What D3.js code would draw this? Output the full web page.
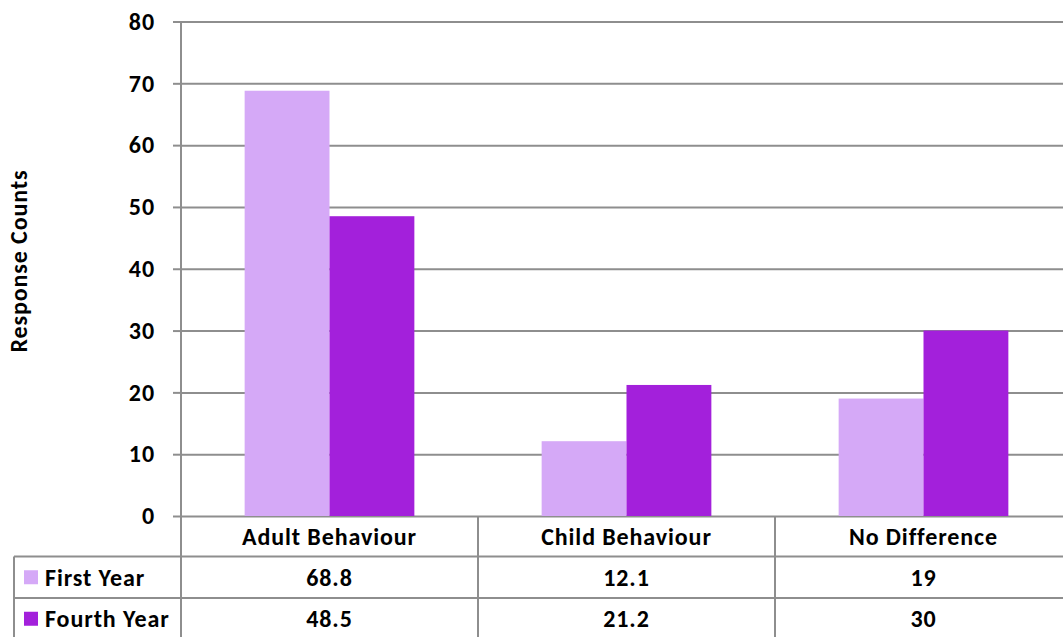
<!DOCTYPE html>
<html>
<head>
<meta charset="utf-8">
<script src="https://cdn.jsdelivr.net/npm/d3@7"></script>
<style>
  html, body { margin: 0; padding: 0; background: #fff; overflow: hidden; }
  svg { display: block; }
  text { font-family: Carlito, Lato, "Open Sans", sans-serif; font-weight: bold; fill: #000; letter-spacing: 0.9px; }
</style>
</head>
<body>
<svg id="chart" width="1063" height="637"></svg>
<script>
const categories = ["Adult Behaviour", "Child Behaviour", "No Difference"];
const seriesNames = ["First Year", "Fourth Year"];
const firstYear = [68.8, 12.1, 19];
const fourthYear = [48.5, 21.2, 30];
const seriesColors = ["#D5A9F7", "#A320DB"];
const yTicks = [0, 10, 20, 30, 40, 50, 60, 70, 80];
const firstYearLabels = ["68.8", "12.1", "19"];
const fourthYearLabels = ["48.5", "21.2", "30"];

const svg = d3.select("#chart");
const W = 1063, H = 637;
const plotLeft = 181, plotRight = 1072, plotTop = 21.5, plotBottom = 516;
const tableLeft = 14;
const rowH = [40.5, 41.5, 41.5];
const gridColor = "#8E8E8E";
const fontSize = 24;
const fontFamily = "Carlito, Lato, 'Open Sans', sans-serif";

const x = d3.scaleBand().domain(categories).range([plotLeft, plotRight]).padding(0);
const y = d3.scaleLinear().domain([0, 80]).range([plotBottom, plotTop]);

// two bars per category, gap width 150% of a bar
const barW = x.bandwidth() / 3.5;
const gap = (x.bandwidth() - 2 * barW) / 2;
const sub = d3.scaleBand().domain([0, 1]).range([0, 2 * barW]).padding(0);

// horizontal gridlines with outward tick marks
const yAxis = d3.axisLeft(y).tickValues(yTicks).tickSize(-(plotRight - plotLeft)).tickPadding(26);
const gy = svg.append("g").attr("transform", `translate(${plotLeft},0)`).call(yAxis);
gy.select(".domain").remove();
gy.selectAll(".tick line").attr("stroke", gridColor).attr("stroke-width", 2);
gy.selectAll(".tick").append("line")
  .attr("x1", -8).attr("x2", 0).attr("stroke", gridColor).attr("stroke-width", 2);
gy.selectAll(".tick text").attr("font-size", fontSize).attr("font-weight", "bold")
  .attr("font-family", fontFamily).attr("fill", "#000");

// bars
const series = [firstYear, fourthYear];
series.forEach((vals, si) => {
  svg.append("g").selectAll("rect").data(vals).join("rect")
    .attr("x", (d, i) => x(categories[i]) + gap + sub(si))
    .attr("width", sub.bandwidth())
    .attr("y", d => y(d))
    .attr("height", d => y(0) - y(d))
    .attr("fill", seriesColors[si]);
});

// y axis line
svg.append("line").attr("x1", plotLeft).attr("x2", plotLeft)
  .attr("y1", plotTop).attr("y2", H).attr("stroke", gridColor).attr("stroke-width", 2);

// data table
const rowTops = [plotBottom, plotBottom + rowH[0], plotBottom + rowH[0] + rowH[1]];
const tbl = svg.append("g");
[rowTops[1], rowTops[2], rowTops[2] + rowH[2]].forEach(yy => {
  tbl.append("line").attr("x1", tableLeft).attr("x2", W).attr("y1", yy).attr("y2", yy)
    .attr("stroke", gridColor).attr("stroke-width", 2);
});
tbl.append("line").attr("x1", tableLeft).attr("x2", tableLeft)
  .attr("y1", rowTops[1]).attr("y2", H).attr("stroke", gridColor).attr("stroke-width", 2);
categories.slice(1).forEach(c => {
  tbl.append("line").attr("x1", x(c)).attr("x2", x(c))
    .attr("y1", plotBottom).attr("y2", H).attr("stroke", gridColor).attr("stroke-width", 2);
});

// category header labels
tbl.selectAll("text.cat").data(categories).join("text").attr("class", "cat")
  .attr("x", d => x(d) + x.bandwidth() / 2)
  .attr("y", rowTops[0] + rowH[0] / 2)
  .attr("dy", "0.35em").attr("text-anchor", "middle").attr("font-size", fontSize)
  .text(d => d);

// series rows with legend keys
const rowLabels = [firstYearLabels, fourthYearLabels];
seriesNames.forEach((name, si) => {
  const cy = rowTops[si + 1] + rowH[si + 1] / 2;
  tbl.append("rect").attr("x", 24).attr("y", cy - 7).attr("width", 14).attr("height", 14)
    .attr("fill", seriesColors[si]);
  tbl.append("text").attr("x", 45).attr("y", cy).attr("dy", "0.35em")
    .attr("font-size", fontSize).text(name);
  tbl.selectAll(null).data(rowLabels[si]).join("text")
    .attr("x", (d, i) => x(categories[i]) + x.bandwidth() / 2)
    .attr("y", cy).attr("dy", "0.35em").attr("text-anchor", "middle")
    .attr("font-size", fontSize).text(d => d);
});

// y axis title
svg.append("text")
  .attr("transform", `translate(19,261) rotate(-90)`)
  .attr("dy", "0.35em")
  .attr("text-anchor", "middle").attr("font-size", 24).text("Response Counts");
</script>
</body>
</html>
